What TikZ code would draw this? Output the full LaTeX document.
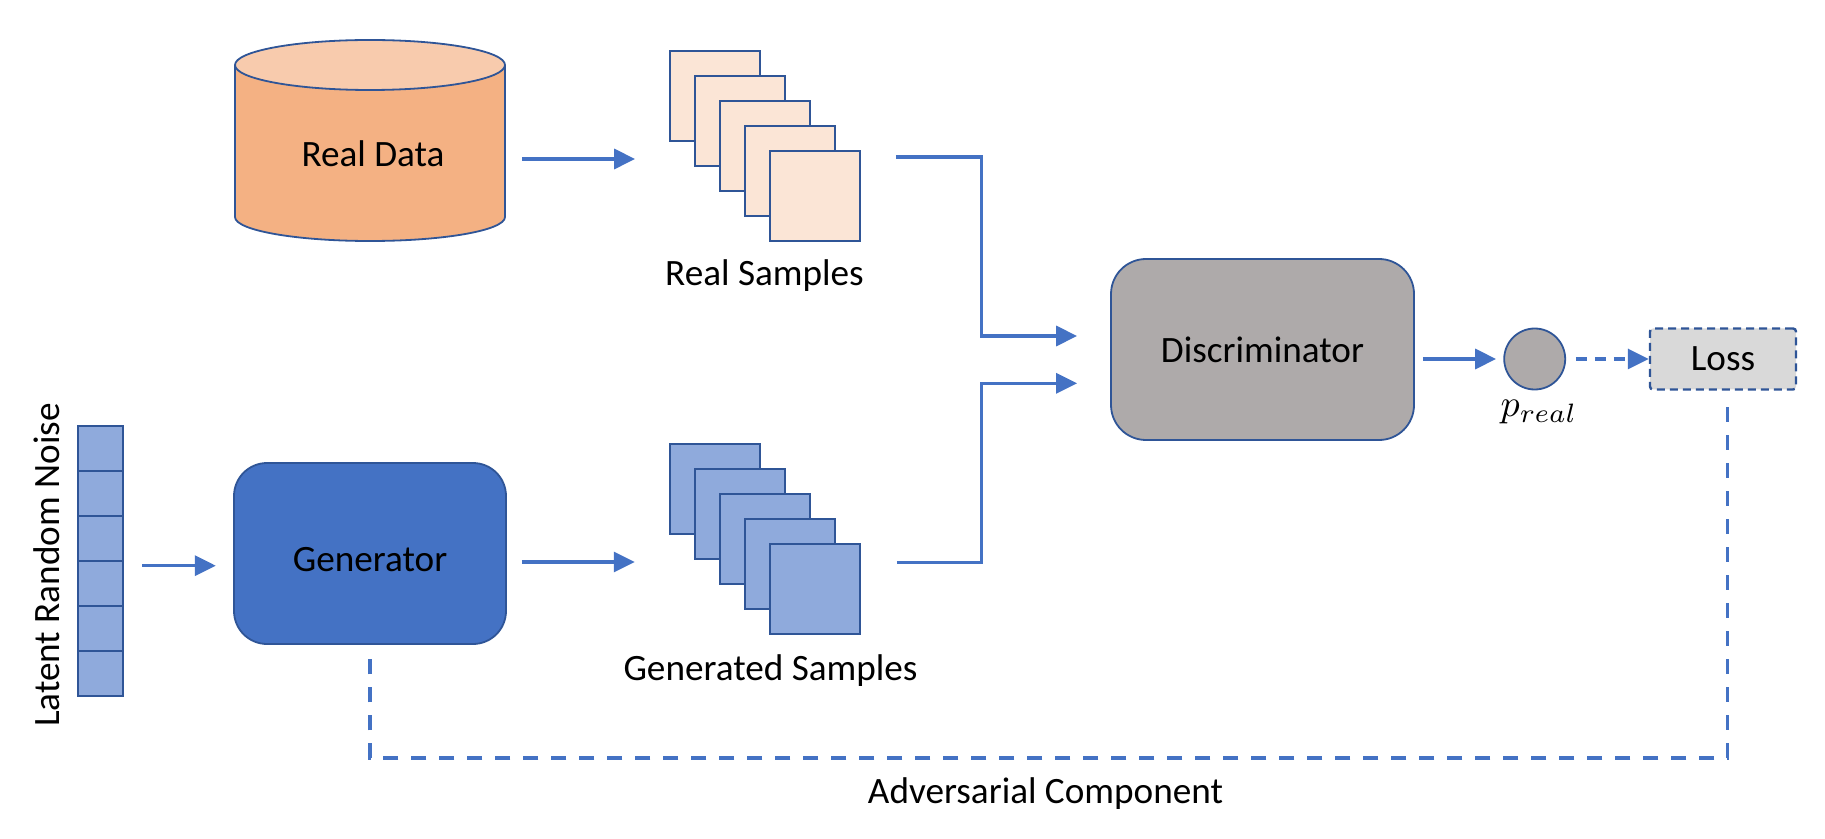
\documentclass[tikz,border=0pt]{standalone}
\usepackage{fontspec}
\setmainfont{Carlito}
\usetikzlibrary{arrows.meta}
\definecolor{edgeblue}{HTML}{2F5597}
\definecolor{arrowblue}{HTML}{4472C4}
\definecolor{orangebody}{HTML}{F4B183}
\definecolor{orangetop}{HTML}{F8CBAD}
\definecolor{samplefill}{HTML}{FBE5D6}
\definecolor{genfill}{HTML}{4472C4}
\definecolor{lightblue}{HTML}{8FAADC}
\definecolor{discgray}{HTML}{AEAAAA}
\definecolor{lossgray}{HTML}{D9D9D9}
\begin{document}
\begin{tikzpicture}[x=0.5pt,y=-0.5pt,
  lblfont/.style={font=\fontsize{18.6}{22}\selectfont},
  lbl/.style={lblfont, inner sep=0pt},
  sheet/.style={draw=edgeblue, line width=0.9pt, minimum width=45pt, minimum height=45pt, inner sep=0pt},
  realsheet/.style={sheet, fill=samplefill},
  gensheet/.style={sheet, fill=lightblue},
  cell/.style={draw=edgeblue, line width=0.9pt, fill=lightblue, minimum width=22.5pt, minimum height=22.5pt, inner sep=0pt},
  block/.style={draw=edgeblue, line width=0.9pt, inner sep=0pt, minimum height=90.5pt, lblfont},
  arr/.style={draw=arrowblue, line width=1.65pt, -{Triangle[length=10.5pt,width=10pt]}},
  darr/.style={arr, dash pattern=on 5.5pt off 4pt},
  fb/.style={draw=arrowblue, line width=1.65pt, dash pattern=on 7.5pt off 6.5pt},
]
\useasboundingbox (0,0) rectangle (1825,839);

% Real Data cylinder
\fill[orangebody] (235,65) -- (235,217) arc[start angle=180, end angle=0, x radius=135, y radius=24] -- (505,65) -- cycle;
\draw[edgeblue, line width=0.9pt] (235,65) -- (235,217) arc[start angle=180, end angle=0, x radius=135, y radius=24] -- (505,65);
\filldraw[fill=orangetop, draw=edgeblue, line width=0.9pt] (370,65) ellipse [x radius=135, y radius=25];
\node[minimum width=135pt, minimum height=100.5pt, inner sep=0pt] (rd) at (370,140.5) {};
\node[lbl, anchor=base] (rdl) at (373,167) {Real Data};

% Real samples
\foreach \k in {1,...,5} {
  \node[realsheet] (rs\k) at ({715+25*(\k-1)},{96+25*(\k-1)}) {};
}
\node[lbl, anchor=base] (rsl) at (764.5,286) {Real Samples};

% Generated samples
\foreach \k in {1,...,5} {
  \node[gensheet] (gs\k) at ({715+25*(\k-1)},{489+25*(\k-1)}) {};
}
\node[lbl, anchor=base] (gsl) at (770.5,680) {Generated Samples};

% Latent noise
\foreach \k in {1,...,6} {
  \node[cell] (n\k) at (100.5,{448.5+45*(\k-1)}) {};
}
\node[minimum width=22.5pt, minimum height=135pt, inner sep=0pt] (noise) at (100.5,561) {};
\node[lbl, rotate=90, anchor=base] (nl) at (59,565) {Latent Random Noise};

% Generator
\node[block, fill=genfill, minimum width=136pt, rounded corners=16.5pt] (gen) at (370,553.5) {};
\node[lbl, anchor=base] (genl) at (370,571.7) {Generator};

% Discriminator
\node[block, fill=discgray, minimum width=151.5pt, rounded corners=17.5pt] (disc) at (1262.5,349.5) {Discriminator};

% p_real
\node[circle, draw=edgeblue, line width=0.9pt, fill=discgray, minimum size=30.5pt, inner sep=0pt] (pr) at (1534.7,359) {};
\node[inner sep=0pt, anchor=base] (prl) at (1539,416.7) {\scalebox{1.9}{$p_{real}$}};

% Loss
\node[draw=edgeblue, line width=1.2pt, dash pattern=on 4pt off 2.5pt, fill=lossgray, minimum width=73pt, minimum height=30.5pt, inner sep=0pt, rounded corners=1.5pt, lblfont] (loss) at (1723,359) {Loss};

% connectors
\draw[arr] ([shift={(17,18.5)}]rd.east) -- ([shift={(-59,38)}]rs2.west);
\draw[arr] ([shift={(35,-39)}]rs5.east) -- ++(85.7,0) |- ([shift={(-33,-13.5)}]disc.west);
\draw[arr] ([shift={(19,4.7)}]noise.east) -- ([shift={(-17.3,12.2)}]gen.west);
\draw[arr] ([shift={(15,8.5)}]gen.east) -- ([shift={(-59.3,48)}]gs2.west);
\draw[arr] ([shift={(36,-26.3)}]gs5.east) -- ++(84.7,0) |- ([shift={(-33,33.8)}]disc.west);
\draw[arr] ([shift={(8,9.5)}]disc.east) -- ([shift={(-7.2,0)}]pr.west);
\draw[darr] ([shift={(9.8,0)}]pr.east) -- (loss.west);
\draw[fb] ([shift={(4.7,16.5)}]loss.south) -- ++(0,350.7) -| ([shift={(0,9)}]gen.south);

\node[lbl, anchor=base] (adv) at (1045.5,803.3) {Adversarial Component};
\end{tikzpicture}
\end{document}
